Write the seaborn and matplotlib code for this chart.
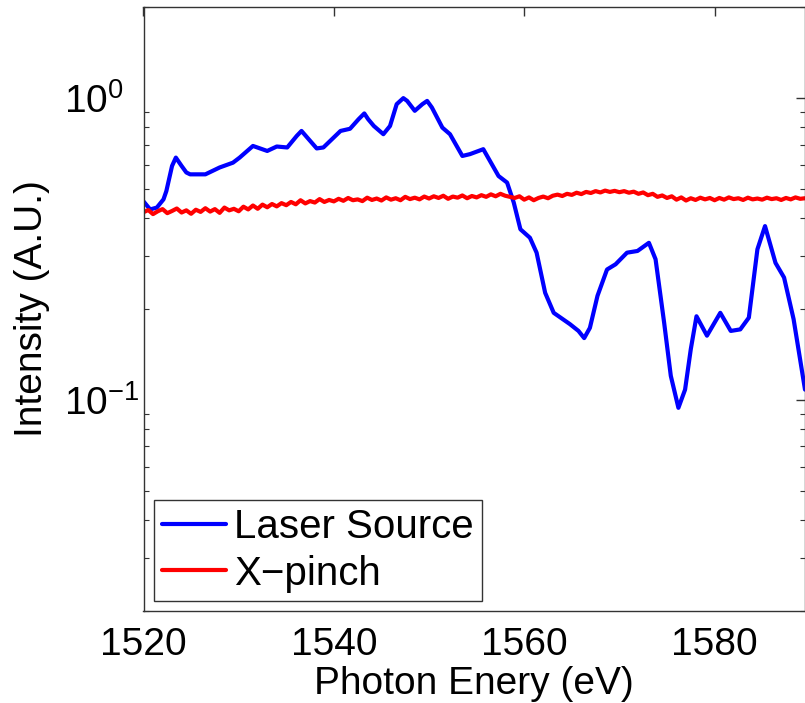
import numpy as np
import pandas as pd
import matplotlib
matplotlib.use("Agg")
import matplotlib.pyplot as plt
import seaborn as sns
from matplotlib.ticker import LogLocator, FixedLocator, NullLocator, NullFormatter, LogFormatterSciNotation

# ---------------- data ----------------
laser_energy = [1520.0, 1520.7, 1521.4, 1522.1, 1522.4, 1523.0, 1523.4, 1524.0, 1524.5, 1524.9,
                1526.5, 1528.0, 1529.4, 1530.1, 1531.5, 1533.0, 1534.0, 1535.1, 1536.1, 1536.6,
                1537.2, 1538.2, 1538.9, 1540.7, 1541.7, 1542.6, 1543.2, 1543.6, 1544.2, 1545.2,
                1545.9, 1546.6, 1547.3, 1547.7, 1548.5, 1549.3, 1549.8, 1550.3, 1551.4, 1552.2,
                1553.5, 1554.3, 1555.7, 1557.3, 1558.2, 1558.9, 1559.6, 1560.6, 1561.3, 1562.2,
                1563.1, 1564.8, 1565.7, 1566.3, 1566.9, 1567.7, 1568.7, 1569.6, 1570.8, 1571.9,
                1573.1, 1573.8, 1574.7, 1575.4, 1576.2, 1576.9, 1577.5, 1578.1, 1579.2, 1580.6,
                1581.7, 1582.7, 1583.6, 1584.5, 1585.3, 1586.4, 1587.3, 1588.3, 1589.5]
laser_intensity = [0.454, 0.427, 0.433, 0.461, 0.491, 0.595, 0.634, 0.595, 0.566, 0.558,
                   0.558, 0.588, 0.610, 0.634, 0.693, 0.667, 0.690, 0.685, 0.748, 0.777,
                   0.739, 0.680, 0.685, 0.777, 0.790, 0.850, 0.888, 0.850, 0.807, 0.758,
                   0.807, 0.953, 0.998, 0.977, 0.906, 0.953, 0.977, 0.929, 0.797, 0.758,
                   0.642, 0.651, 0.676, 0.551, 0.524, 0.450, 0.367, 0.344, 0.307, 0.226,
                   0.194, 0.178, 0.169, 0.160, 0.173, 0.221, 0.270, 0.281, 0.307, 0.311,
                   0.331, 0.292, 0.180, 0.120, 0.094, 0.108, 0.147, 0.189, 0.163, 0.194,
                   0.169, 0.171, 0.187, 0.315, 0.376, 0.284, 0.254, 0.185, 0.108]

xpinch_energy = np.arange(1520.0, 1590.0, 0.5)
xpinch_intensity = [
    0.418, 0.425, 0.412, 0.421, 0.428, 0.415, 0.422, 0.430, 0.417, 0.424,
    0.413, 0.426, 0.419, 0.431, 0.420, 0.428, 0.416, 0.433, 0.424, 0.429,
    0.421, 0.436, 0.427, 0.440, 0.429, 0.443, 0.434, 0.445, 0.437, 0.448,
    0.441, 0.452, 0.444, 0.458, 0.447, 0.455, 0.450, 0.462, 0.452, 0.459,
    0.454, 0.463, 0.456, 0.466, 0.458, 0.461, 0.455, 0.467, 0.459, 0.464,
    0.457, 0.468, 0.460, 0.465, 0.458, 0.470, 0.462, 0.467, 0.461, 0.471,
    0.464, 0.472, 0.466, 0.474, 0.463, 0.471, 0.467, 0.475, 0.465, 0.473,
    0.468, 0.476, 0.470, 0.479, 0.472, 0.481, 0.474, 0.470, 0.466, 0.472,
    0.460, 0.468, 0.458, 0.466, 0.471, 0.465, 0.474, 0.478, 0.473, 0.481,
    0.477, 0.485, 0.480, 0.488, 0.484, 0.491, 0.486, 0.493, 0.488, 0.492,
    0.487, 0.491, 0.485, 0.489, 0.481, 0.486, 0.476, 0.481, 0.470, 0.475,
    0.466, 0.472, 0.460, 0.468, 0.457, 0.465, 0.459, 0.467, 0.461, 0.466,
    0.458, 0.466, 0.460, 0.468, 0.462, 0.465, 0.459, 0.467, 0.461, 0.464,
    0.460, 0.467, 0.462, 0.465, 0.459, 0.466, 0.461, 0.468, 0.463, 0.465]

x_ticks = [1520, 1540, 1560, 1580]
y_ticks = [0.1, 1.0]
series_names = ["Laser Source", "X\u2212pinch"]
series_colors = ["#0000ff", "#ff0000"]

# ---------------- style ----------------
sns.set_style("white")
plt.rcParams["font.family"] = ["Liberation Sans", "DejaVu Sans"]
plt.rcParams["mathtext.fontset"] = "custom"
plt.rcParams["mathtext.rm"] = "Liberation Sans"
plt.rcParams["mathtext.it"] = "Liberation Sans:italic"
plt.rcParams["mathtext.bf"] = "Liberation Sans:bold"
plt.rcParams["text.color"] = "black"
plt.rcParams["axes.labelcolor"] = "black"
plt.rcParams["xtick.color"] = "black"
plt.rcParams["ytick.color"] = "black"

FS = 28
fig = plt.figure(figsize=(8.05, 7.03), dpi=100)
ax = fig.add_axes([143.5 / 805, 1 - 610.7 / 703, (805 - 143.5) / 805, (610.7 - 7) / 703])

laser_df = pd.DataFrame({"energy": laser_energy, "intensity": laser_intensity})
xp_df = pd.DataFrame({"energy": xpinch_energy, "intensity": xpinch_intensity})

sns.lineplot(data=laser_df, x="energy", y="intensity", ax=ax, color=series_colors[0],
             linewidth=3.0, label=series_names[0], estimator=None, sort=False)
sns.lineplot(data=xp_df, x="energy", y="intensity", ax=ax, color=series_colors[1],
             linewidth=3.0, label=series_names[1], estimator=None, sort=False)

ax.set_yscale("log")
ax.set_xlim(1520, 1589.5)
ax.set_ylim(0.02, 2)
ax.xaxis.set_major_locator(FixedLocator(x_ticks))
ax.xaxis.set_minor_locator(NullLocator())
ax.yaxis.set_major_locator(FixedLocator(y_ticks))
ax.yaxis.set_major_formatter(LogFormatterSciNotation())
ax.yaxis.set_minor_locator(LogLocator(base=10, subs=np.arange(2, 10), numticks=20))
ax.yaxis.set_minor_formatter(NullFormatter())

for s in ax.spines.values():
    s.set_color("#333333")
    s.set_linewidth(1.0)
    s.set_visible(True)

ax.tick_params(axis="both", which="major", direction="in", length=6.5, width=1.0,
               color="#333333", labelsize=FS, top=True, right=True, labelcolor="black")
ax.tick_params(axis="y", which="minor", direction="in", length=3.5, width=0.8,
               color="#333333", left=True, right=True)
ax.tick_params(axis="x", which="major", pad=12)
# MATLAB-style: the "10" base is left-anchored, exponent hangs to the right
ax.tick_params(axis="y", which="major", pad=57)
plt.setp(ax.get_yticklabels(), ha="left")

ax.set_xlabel("Photon Enery (eV)", fontsize=FS, labelpad=2, color="black")
ax.set_ylabel("Intensity (A.U.)", fontsize=FS, labelpad=10.5, color="black")

leg = ax.legend(loc="lower left", fontsize=29, frameon=True, fancybox=False,
                framealpha=1, edgecolor="#333333", handlelength=1.6, handletextpad=0.2,
                borderpad=0.2, labelspacing=0.22, borderaxespad=0.25)
leg.get_frame().set_linewidth(1.0)
for t in leg.get_texts():
    t.set_color("black")
for line in leg.get_lines():
    line.set_linewidth(3.0)

fig.savefig("out.png", dpi=100)
